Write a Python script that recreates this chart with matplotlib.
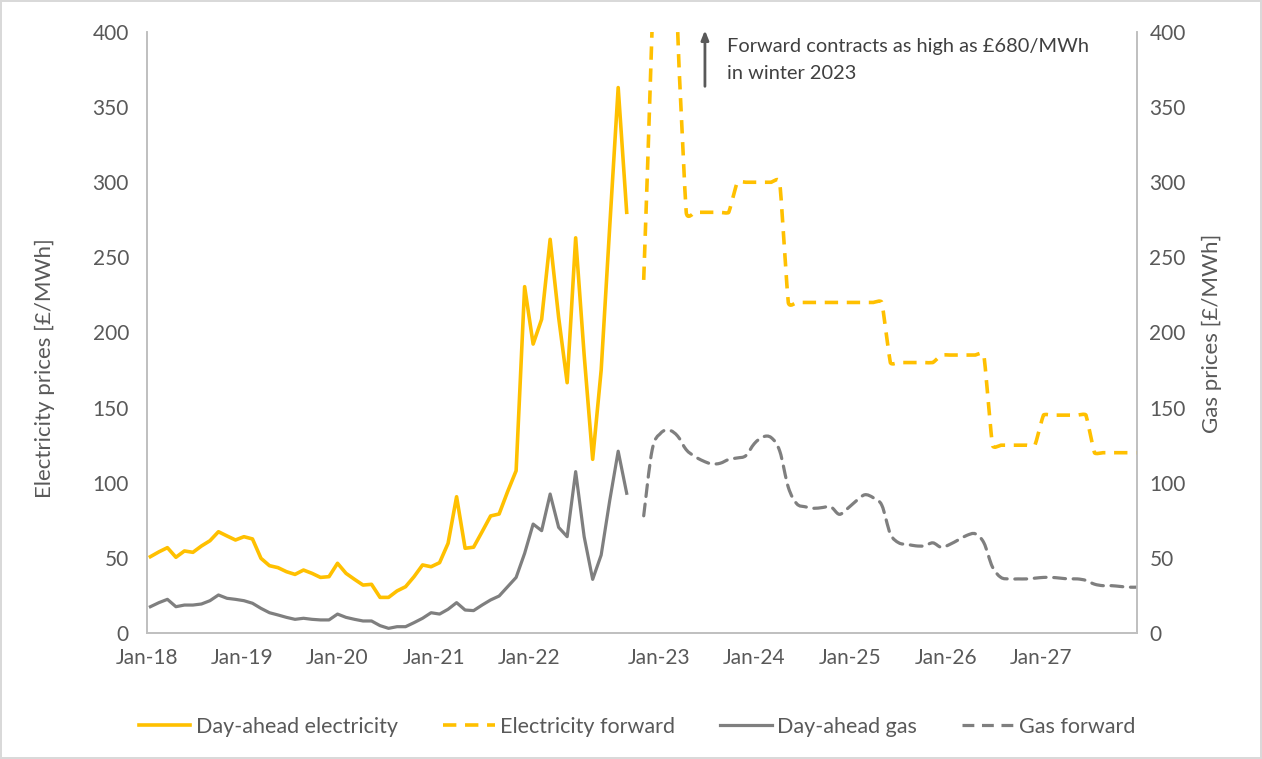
import numpy as np
import pandas as pd
import matplotlib
matplotlib.use("Agg")
import matplotlib.pyplot as plt
from matplotlib.path import Path
from matplotlib.patches import PathPatch
from matplotlib.lines import Line2D

plt.rcParams['font.family'] = ['Lato', 'DejaVu Sans']

# ---------------- data ----------------
months = pd.date_range("2018-01-01", "2027-09-01", freq="MS")   # category axis (117 months)

# Day-ahead series, Jan-18 .. Sep-22 (57 months)
da_elec = [50.8, 54.0, 56.8, 50.4, 54.6, 53.7, 57.9, 61.4, 67.4, 64.6, 61.9, 64.1,
           62.6, 49.7, 44.8, 43.5, 40.8, 39.0, 41.9, 39.7, 37.0, 37.5, 46.4, 39.7,
           35.7, 31.9, 32.4, 23.7, 23.7, 28.0, 30.8, 37.5, 45.3, 44.1, 46.8, 59.7,
           90.7, 56.4, 57.1, 67.4, 77.9, 79.2, 94.1, 108.0, 230.5, 192.3, 208.8, 262.0,
           210.0, 166.6, 263.0, 185.0, 115.6, 175.0, 270.0, 363.0, 280.0]
da_gas = [17.5, 20.2, 22.4, 17.5, 18.6, 18.6, 19.3, 21.5, 25.3, 23.1, 22.4, 21.5,
          19.8, 16.4, 13.5, 12.0, 10.4, 9.1, 9.8, 9.1, 8.7, 8.7, 12.6, 10.4,
          9.1, 8.0, 8.0, 4.9, 3.1, 4.2, 4.2, 6.9, 9.8, 13.5, 12.6, 15.8,
          20.2, 15.3, 14.9, 18.6, 22.0, 24.6, 30.8, 37.0, 53.0, 72.5, 68.1, 92.5,
          70.3, 64.1, 107.4, 64.1, 35.7, 51.9, 88.0, 121.0, 93.0]

# Forward series, Nov-22 .. Sep-27 (59 months)
fwd_start = 58
fwd_elec = [235, 405, 680, 680, 400,
            280, 280, 280, 280, 280, 280,
            300, 300, 300, 300, 300, 300,
            220, 220, 220, 220, 220, 220, 220, 220, 220, 220, 220, 220,
            180, 180, 180, 180, 180, 180,
            185, 185, 185, 185, 185, 185,
            125, 125, 125, 125, 125, 125,
            145, 145, 145, 145, 145, 145,
            120, 120, 120, 120, 120, 120]
fwd_gas = [78, 122, 133, 135, 131, 122, 117.5, 114.5, 112.5, 113, 115.5, 116.5,
           118, 126, 130.5, 130, 121, 97, 86, 84, 83, 83.5,
           84, 79, 83, 88, 92, 90, 85, 66, 60, 59,
           58, 58, 60, 57, 59, 62, 65, 66, 60, 44,
           37, 36, 36, 36, 36.5, 37, 37, 36.5, 36, 36,
           35, 32.5, 31.5, 31.5, 31, 30.5, 30.5]

tick_labels = ["Jan-18", "Jan-19", "Jan-20", "Jan-21", "Jan-22",
               "Jan-23", "Jan-24", "Jan-25", "Jan-26", "Jan-27"]
tick_pos = [-0.4, 10.8, 22.0, 33.3, 44.5, 59.8, 71.0, 82.3, 93.5, 104.7]

yticks = list(range(0, 401, 50))

# ---------------- style ----------------
YELLOW = "#FFC000"
GREY = "#7F7F7F"
TXT = "#595959"
AX = "#BFBFBF"
FS = 15

def smooth_path(x, y, k=0.1):
    pts = np.column_stack([x, y]).astype(float)
    n = len(pts)
    verts = [pts[0]]
    codes = [Path.MOVETO]
    for i in range(n - 1):
        p0 = pts[i - 1] if i > 0 else pts[i]
        p1 = pts[i]
        p2 = pts[i + 1]
        p3 = pts[i + 2] if i + 2 < n else pts[i + 1]
        c1 = p1 + (p2 - p0) * k
        c2 = p2 - (p3 - p1) * k
        verts += [c1, c2, p2]
        codes += [Path.CURVE4] * 3
    return Path(verts, codes)

fig = plt.figure(figsize=(12.62, 7.59), dpi=100)
fig.patch.set_facecolor("white")
fig.patch.set_edgecolor("#D9D9D9")
fig.patch.set_linewidth(1.5)

ax = fig.add_axes([147/1262, 1 - 633/759, (1137-147)/1262, (633-32)/759])
ax2 = ax.twinx()

x_da = np.arange(len(da_elec))
x_fwd = np.arange(fwd_start, fwd_start + len(fwd_elec))

lw_e = 2.6
lw_g = 2.3
dash = (0, (3.7, 2.4))

ax.plot(x_da, da_elec, color=YELLOW, lw=lw_e, solid_joinstyle="round", zorder=3)
ax.add_patch(PathPatch(smooth_path(x_fwd, fwd_elec, k=0.05), fill=False, edgecolor=YELLOW,
                       lw=lw_e, linestyle=dash, capstyle="butt", joinstyle="round", zorder=3))
ax2.plot(x_da, da_gas, color=GREY, lw=lw_g, solid_joinstyle="round", zorder=2)
ax2.add_patch(PathPatch(smooth_path(x_fwd, fwd_gas, k=1/6), fill=False, edgecolor=GREY,
                        lw=lw_g, linestyle=dash, capstyle="round", zorder=2))

for a in (ax, ax2):
    a.set_xlim(0, len(months) - 1)
    a.set_ylim(0, 400)
    a.set_yticks(yticks)
    a.spines["top"].set_visible(False)
    for s in ("left", "right", "bottom"):
        a.spines[s].set_color(AX)
        a.spines[s].set_linewidth(1.2)

ax.set_xticks(tick_pos)
ax.set_xticklabels(tick_labels)
ax.tick_params(axis="x", length=0, pad=11, labelsize=FS, colors=TXT)
ax.tick_params(axis="y", length=0, pad=13, labelsize=FS, colors=TXT)
ax2.tick_params(axis="y", length=0, pad=9, labelsize=FS, colors=TXT)

fig.text(45/1262, 1 - 368/759, "Electricity prices [£/MWh]", rotation=90,
         ha="center", va="center", fontsize=16, color=TXT)
fig.text(1212/1262, 1 - 333/759, "Gas prices [£/MWh]", rotation=90,
         ha="center", va="center", fontsize=16, color=TXT)

# annotation
ax.annotate("", xy=(65.2, 403), xytext=(65.2, 362), xycoords="data",
            arrowprops=dict(arrowstyle="-|>,head_length=0.55,head_width=0.22",
                            color="#595959", lw=2), annotation_clip=False)
ax.text(67.8, 390.2, "Forward contracts as high as £680/MWh",
        ha="left", va="center", fontsize=14.4, color="#404040")
ax.text(67.8, 372.5, "in winter 2023",
        ha="left", va="center", fontsize=14.4, color="#404040")

handles = [Line2D([], [], color=YELLOW, lw=lw_e),
           Line2D([], [], color=YELLOW, lw=lw_e, linestyle=dash),
           Line2D([], [], color=GREY, lw=lw_g),
           Line2D([], [], color=GREY, lw=lw_g, linestyle=dash)]
labels = ["Day-ahead electricity", "Electricity forward", "Day-ahead gas", "Gas forward"]
fig.legend(handles, labels, loc="center", bbox_to_anchor=(0.505, 1 - 727/759), ncol=4,
           frameon=False, fontsize=15.5, handlelength=2.4, handletextpad=0.25,
           columnspacing=2.1, labelcolor=TXT)

fig.savefig("out.png", dpi=100, facecolor=fig.get_facecolor(), edgecolor=fig.get_edgecolor())
